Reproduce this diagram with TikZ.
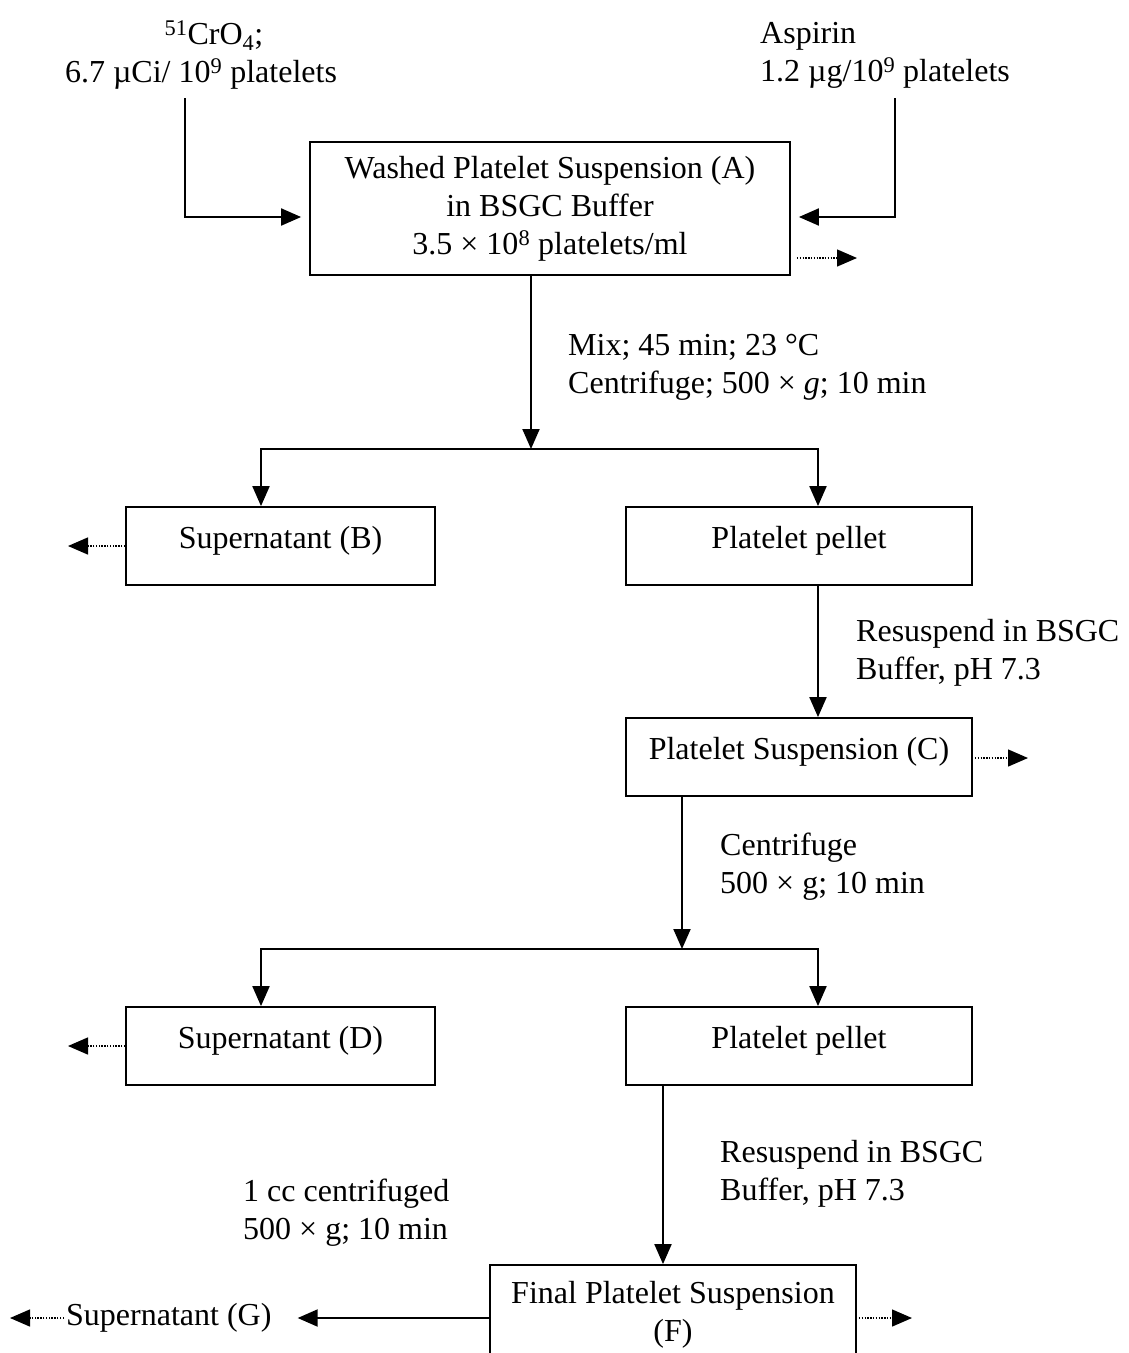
\documentclass[tikz,border=0pt]{standalone}
\usepackage{fontspec}
\setmainfont{Liberation Serif}
\usetikzlibrary{arrows.meta}
\begin{document}
\begin{tikzpicture}[x=1pt,y=-1pt,
  font=\fontsize{32}{38}\selectfont,
  boxbase/.style={draw, line width=1.8pt, inner sep=0pt},
  box/.style={boxbase, text height=22pt, text depth=18pt},
  flow/.style={line width=2pt, -{Triangle[length=20pt,width=17pt]}},
  dotarrow/.style={line width=1.4pt, dash pattern=on 1.4pt off 1.4pt, -{Triangle[length=20pt,width=17pt]}},
  lbl/.style={inner sep=0pt, align=left, anchor=west}
]
\useasboundingbox (0,0) rectangle (1128,1353);
\clip (0,0) rectangle (1128,1353);

% boxes
\node[boxbase, minimum width=480pt, minimum height=133pt, align=center] (A) at (550,208.5)
  {Washed Platelet Suspension (A)\\in BSGC Buffer\\3.5 × 10\textsuperscript{8} platelets/ml};
\node[box, minimum width=309pt, minimum height=78pt] (B) at (280.5,546) {Supernatant (B)};
\node[box, minimum width=346pt, minimum height=78pt] (P1) at (799,546) {Platelet pellet};
\node[box, minimum width=346pt, minimum height=78pt] (C) at (799,757) {Platelet Suspension (C)};
\node[box, minimum width=309pt, minimum height=78pt] (D) at (280.5,1046) {Supernatant (D)};
\node[box, minimum width=346pt, minimum height=78pt] (P2) at (799,1046) {Platelet pellet};
\node[boxbase, minimum width=366pt, minimum height=100pt, align=center] (F) at (673,1315)
  {Final Platelet Suspension\\(F)};
\node[anchor=base west, inner sep=0pt] (G) at (66,1325) {Supernatant (G)};

% labels
\node[inner sep=0pt, align=center] (cr) at (201,55)
  {\hspace*{26pt}\textsuperscript{51}CrO\textsubscript{4};\\6.7 µCi/ 10\textsuperscript{9} platelets};
\node[lbl] (asp) at (760,55) {Aspirin\\1.2 µg/10\textsuperscript{9} platelets};
\node[lbl] (mix) at (568,367) {Mix; 45 min; 23 °C\\Centrifuge; 500 × \textit{g}; 10 min};
\node[lbl] (res1) at (856,653) {Resuspend in BSGC\\Buffer, pH 7.3};
\node[lbl] (cen) at (720,867) {Centrifuge\\500 × g; 10 min};
\node[lbl] (res2) at (720,1174) {Resuspend in BSGC\\Buffer, pH 7.3};
\node[lbl] (cc) at (243,1213) {1 cc centrifuged\\500 × g; 10 min};

% coordinates
\coordinate (crin) at (185,98);
\coordinate (aspin) at (895,98);
\coordinate (Aout) at (857,258);
\coordinate (j1) at (531,449);
\coordinate (xl) at (261,0);
\coordinate (xr) at (818,0);
\coordinate (Bout) at (68,546);
\coordinate (Cout) at (1028,758);
\coordinate (j2) at (682,949);
\coordinate (Dout) at (68,1046);
\coordinate (xf) at (663,0);
\coordinate (Gout) at (10,1318);
\coordinate (Fout) at (912,1318);

% connectors
\draw[flow, shorten >=8pt] (crin) |- (A.west |- 0,217);
\draw[flow, shorten >=8pt] (aspin) |- (A.east |- 0,217);
\draw[dotarrow, shorten <=6pt] (A.east |- Aout) -- (Aout);
\draw[flow] (A.south -| j1) -- (j1);
\draw[flow] (j1) -| (B.north -| xl);
\draw[flow] (j1) -| (P1.north -| xr);
\draw[dotarrow] (B.west) -- (Bout);
\draw[flow] (P1.south -| xr) -- (C.north -| xr);
\draw[dotarrow, shorten <=2pt] (C.east |- Cout) -- (Cout);
\draw[flow] (C.south -| j2) -- (j2);
\draw[flow] (j2) -| (D.north -| xl);
\draw[flow] (j2) -| (P2.north -| xr);
\draw[dotarrow] (D.west) -- (Dout);
\draw[flow] (P2.south -| xf) -- (F.north -| xf);
\draw[flow, shorten >=26pt] (F.west |- 0,1318) -- (G.east |- 0,1318);
\draw[dotarrow, shorten <=2pt] (G.west |- Gout) -- (Gout);
\draw[dotarrow, shorten <=2pt] (F.east |- Fout) -- (Fout);
\end{tikzpicture}
\end{document}
